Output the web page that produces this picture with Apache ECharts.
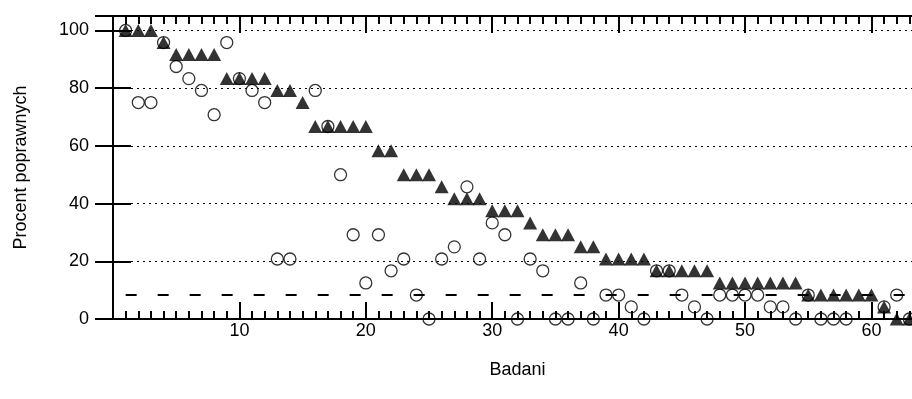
<!DOCTYPE html>
<html><head><meta charset="utf-8">
<script src="https://cdn.jsdelivr.net/npm/echarts@6/dist/echarts.min.js"></script>
<style>html,body{margin:0;padding:0;overflow:hidden;background:#fff}#c{width:930px;height:399px}</style>
</head><body><div id="c"></div>
<script>
// Subjects (x positions)
const subjects = [1,2,3,4,5,6,7,8,9,10,11,12,13,14,15,16,17,18,19,20,21,22,23,24,25,26,27,28,29,30,31,32,33,34,35,36,37,38,39,40,41,42,43,44,45,46,47,48,49,50,51,52,53,54,55,56,57,58,59,60,61,62,63];
// Filled triangles (percent correct)
const triangleValues = [100,100,100,95.8,91.7,91.7,91.7,91.7,83.3,83.3,83.3,83.3,79.2,79.2,75,66.7,66.7,66.7,66.7,66.7,58.3,58.3,50,50,50,45.8,41.7,41.7,41.7,37.5,37.5,37.5,33.3,29.2,29.2,29.2,25,25,20.8,20.8,20.8,20.8,16.7,16.7,16.7,16.7,16.7,12.5,12.5,12.5,12.5,12.5,12.5,12.5,8.3,8.3,8.3,8.3,8.3,8.3,4.2,0,0];
// Open circles (percent correct), null = not shown
const circleValues = [100,75,75,95.8,87.5,83.3,79.2,70.8,95.8,83.3,79.2,75,20.8,20.8,null,79.2,66.7,50,29.2,12.5,29.2,16.7,20.8,8.3,0,20.8,25,45.8,20.8,33.3,29.2,0,20.8,16.7,0,0,12.5,0,8.3,8.3,4.2,0,16.7,16.7,8.3,4.2,0,8.3,8.3,8.3,8.3,4.2,4.2,0,8.3,0,0,0,null,null,4.2,8.3,0];
// Dashed reference level
const referenceLevel = 8.33;
const referenceRange = [1, 63];
const xTickLabels = [10,20,30,40,50,60];
const yTickLabels = [0,20,40,60,80,100];

const FONT = "'Liberation Sans', Arial, sans-serif";
const triData = subjects.map((s,i)=>[s, triangleValues[i]]);
const cirData = [];
subjects.forEach((s,i)=>{ if(circleValues[i]!==null) cirData.push([s, circleValues[i]]); });

const baseX = {type:'value', min:0, max:64, splitLine:{show:false},
  axisLine:{show:true, lineStyle:{color:'#000', width:2}}};
const chart = echarts.init(document.getElementById('c'), null, {renderer:'canvas'});
chart.setOption({
  animation:false,
  backgroundColor:'#fff',
  grid:{left:113, right:8, top:16, bottom:80, containLabel:false},
  xAxis:[
    Object.assign({}, baseX, {position:'bottom', interval:1,
      axisTick:{show:true, inside:true, length:8, lineStyle:{color:'#000', width:2}},
      axisLabel:{show:false}}),
    Object.assign({}, baseX, {position:'bottom', interval:10,
      axisTick:{show:true, inside:true, length:17, lineStyle:{color:'#000', width:2}},
      axisLabel:{show:true, color:'#000', fontFamily:FONT, fontSize:18, margin:3,
        formatter:v=> xTickLabels.indexOf(v)>=0 ? String(v) : ''},
      name:'Badani', nameLocation:'middle', nameGap:42,
      nameTextStyle:{color:'#000', fontFamily:FONT, fontSize:18}}),
    Object.assign({}, baseX, {position:'top', interval:1,
      axisTick:{show:true, inside:true, length:8, lineStyle:{color:'#000', width:2}},
      axisLabel:{show:false}}),
    Object.assign({}, baseX, {position:'top', interval:10,
      axisTick:{show:true, inside:true, length:17, lineStyle:{color:'#000', width:2}},
      axisLabel:{show:false}})
  ],
  yAxis:[
    {type:'value', position:'left', min:0, max:105, interval:20,
      axisLine:{show:true, lineStyle:{color:'#000', width:2}},
      axisTick:{show:true, inside:true, length:18, lineStyle:{color:'#000', width:2}},
      axisLabel:{show:true, color:'#000', fontFamily:FONT, fontSize:18, margin:24,
        formatter:v=> yTickLabels.indexOf(v)>=0 ? String(v) : ''},
      splitLine:{show:true, lineStyle:{color:'#000', width:1, type:[2,4]}},
      name:'Procent poprawnych', nameLocation:'middle', nameGap:83,
      nameTextStyle:{color:'#000', fontFamily:FONT, fontSize:18}},
    {type:'value', position:'right', min:0, max:105, interval:20,
      axisLine:{show:true, lineStyle:{color:'#000', width:2}},
      axisTick:{show:true, inside:true, length:18, lineStyle:{color:'#000', width:2}},
      axisLabel:{show:false}, splitLine:{show:false}}
  ],
  series:[
    {type:'line', xAxisIndex:0, yAxisIndex:0, data:[[referenceRange[0],referenceLevel],[referenceRange[1],referenceLevel]],
      symbol:'none', lineStyle:{color:'#000', width:2, type:[11,21]}, z:2, silent:true},
    {type:'scatter', xAxisIndex:0, yAxisIndex:0, data:triData, symbol:'triangle', symbolSize:[14,13],
      itemStyle:{color:'#000'}, z:3},
    {type:'scatter', xAxisIndex:0, yAxisIndex:0, data:cirData, symbol:'circle', symbolSize:12,
      itemStyle:{color:'rgba(0,0,0,0)', borderColor:'#000', borderWidth:1.3}, z:4}
  ]
});
</script></body></html>
